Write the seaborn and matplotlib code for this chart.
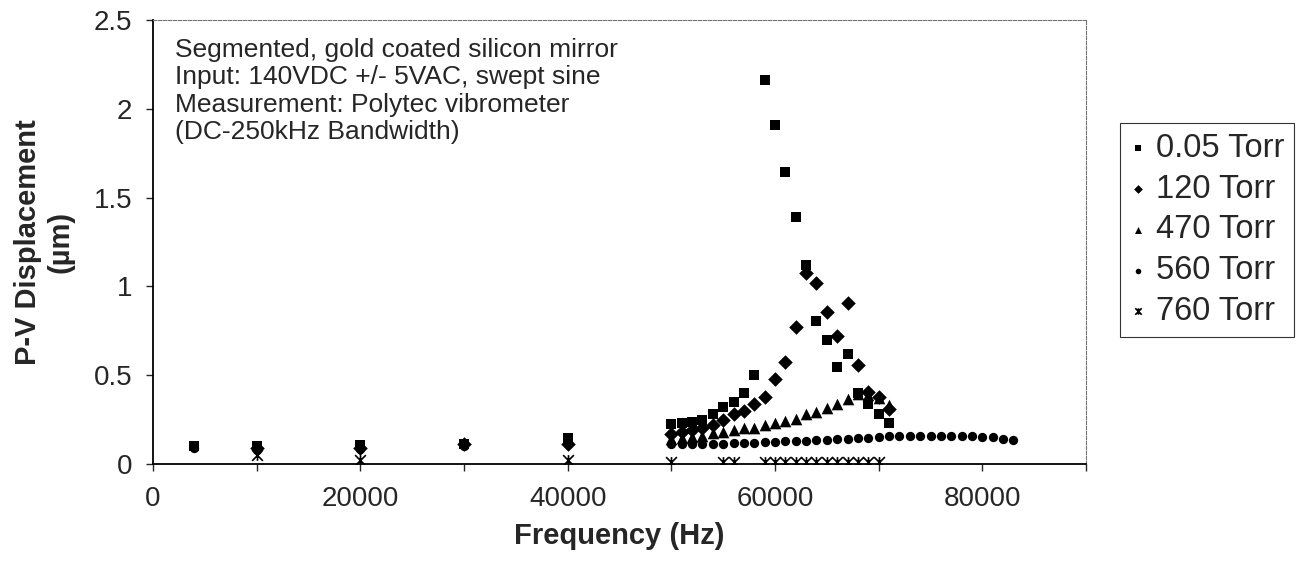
import matplotlib
matplotlib.use('Agg')
import matplotlib.pyplot as plt
from matplotlib.path import Path
import seaborn as sns

sns.set_style('white')
plt.rcParams['font.family'] = ['Liberation Sans', 'DejaVu Sans']

# data (Hz, um)
freq_005 = [4000, 10000, 20000, 30000, 40000,
            50000, 51000, 52000, 53000, 54000, 55000, 56000, 57000, 58000, 59000, 60000,
            61000, 62000, 63000, 64000, 65000, 66000, 67000, 68000, 69000, 70000, 71000]
disp_005 = [0.10, 0.10, 0.105, 0.115, 0.145,
            0.225, 0.23, 0.238, 0.25, 0.28, 0.32, 0.35, 0.40, 0.50, 2.16, 1.91,
            1.646, 1.393, 1.12, 0.807, 0.698, 0.544, 0.619, 0.40, 0.338, 0.28, 0.233]

freq_120 = [10000, 20000, 30000, 40000,
            50000, 51000, 52000, 53000, 54000, 55000, 56000, 57000, 58000, 59000, 60000,
            61000, 62000, 63000, 64000, 65000, 66000, 67000, 68000, 69000, 70000, 71000]
disp_120 = [0.09, 0.09, 0.11, 0.11,
            0.17, 0.18, 0.19, 0.20, 0.22, 0.25, 0.28, 0.30, 0.34, 0.38, 0.48,
            0.576, 0.77, 1.074, 1.017, 0.858, 0.72, 0.908, 0.557, 0.407, 0.375, 0.31]

freq_470 = [50000, 51000, 52000, 53000, 54000, 55000, 56000, 57000, 58000, 59000, 60000,
            61000, 62000, 63000, 64000, 65000, 66000, 67000, 68000, 69000, 70000, 71000]
disp_470 = [0.14, 0.145, 0.15, 0.16, 0.176, 0.182, 0.191, 0.201, 0.205, 0.218, 0.229,
            0.244, 0.252, 0.282, 0.295, 0.313, 0.338, 0.364, 0.395, 0.389, 0.37, 0.33]

freq_560 = [4000, 10000, 20000, 30000, 40000,
            50000, 51000, 52000, 53000, 54000, 55000, 56000, 57000, 58000, 59000, 60000,
            61000, 62000, 63000, 64000, 65000, 66000, 67000, 68000, 69000, 70000, 71000,
            72000, 73000, 74000, 75000, 76000, 77000, 78000, 79000, 80000, 81000, 82000, 83000]
disp_560 = [0.09, 0.08, 0.085, 0.10, 0.11,
            0.115, 0.115, 0.115, 0.115, 0.115, 0.115, 0.118, 0.118, 0.12, 0.125, 0.125,
            0.127, 0.13, 0.13, 0.135, 0.135, 0.14, 0.14, 0.145, 0.145, 0.15, 0.155,
            0.158, 0.158, 0.158, 0.158, 0.158, 0.158, 0.156, 0.156, 0.15, 0.15, 0.14, 0.135]

freq_760 = [10000, 20000, 40000, 50000, 55000, 56000,
            59000, 60000, 61000, 62000, 63000, 64000, 65000, 66000, 67000, 68000, 69000, 70000]
disp_760 = [0.05, 0.02, 0.02, 0.01, 0.01, 0.01,
            0.01, 0.01, 0.01, 0.01, 0.01, 0.01, 0.01, 0.01, 0.01, 0.01, 0.01, 0.01]

# x with a vertical bar, like the Excel star marker
star = Path([(-0.5, -0.5), (0.5, 0.5), (-0.5, 0.5), (0.5, -0.5), (0, -0.5), (0, 0.5)],
            [Path.MOVETO, Path.LINETO, Path.MOVETO, Path.LINETO, Path.MOVETO, Path.LINETO])

fig = plt.figure(figsize=(13.05, 5.67), dpi=100)
ax = fig.add_axes([153/1305, 1-464/567, 933/1305, 444/567])

sns.scatterplot(x=freq_005, y=disp_005, marker='s', s=55, color='black', edgecolor='black',
                linewidth=0, label='0.05 Torr', ax=ax, zorder=5)
sns.scatterplot(x=freq_120, y=disp_120, marker='D', s=55, color='black', edgecolor='black',
                linewidth=0, label='120 Torr', ax=ax, zorder=4)
sns.scatterplot(x=freq_470, y=disp_470, marker='^', s=70, color='black', edgecolor='black',
                linewidth=0, label='470 Torr', ax=ax, zorder=3)
sns.scatterplot(x=freq_560, y=disp_560, marker='o', s=45, color='black', edgecolor='black',
                linewidth=0, label='560 Torr', ax=ax, zorder=3)
sns.scatterplot(x=freq_760, y=disp_760, marker=star, s=60, color='black', edgecolor='black',
                linewidth=1.2, label='760 Torr', ax=ax, zorder=3)

ax.set_xlim(0, 90000)
ax.set_ylim(0, 2.5)
ax.set_xticks([0, 20000, 40000, 60000, 80000])
ax.set_xticks([10000, 30000, 50000, 70000, 90000], minor=True)
ax.set_yticks([0, 0.5, 1, 1.5, 2, 2.5])
ax.set_yticklabels(['0', '0.5', '1', '1.5', '2', '2.5'])
ax.tick_params(axis='x', which='both', direction='out', length=5, width=1, labelsize=20,
               pad=11, bottom=True)
ax.tick_params(axis='y', direction='out', length=5, width=1, labelsize=20, pad=10, left=True)

for s in ['left', 'bottom']:
    ax.spines[s].set_color('black')
    ax.spines[s].set_linewidth(1.3)
for s in ['top', 'right']:
    ax.spines[s].set_color('0.45')
    ax.spines[s].set_linewidth(0.8)
    ax.spines[s].set_linestyle((0, (3, 1.5)))

ax.set_xlabel('Frequency (Hz)', fontsize=21, fontweight='bold', labelpad=7)
ax.set_ylabel('P-V Displacement\n(µm)', fontsize=21, fontweight='bold', labelpad=14)

ax.text(0.024, 0.96,
        'Segmented, gold coated silicon mirror\nInput: 140VDC +/- 5VAC, swept sine\n'
        'Measurement: Polytec vibrometer\n(DC-250kHz Bandwidth)',
        transform=ax.transAxes, ha='left', va='top', fontsize=19, linespacing=1.18)

leg = ax.legend(loc='upper left', bbox_to_anchor=(1120/1305, 1-123/567),
                bbox_transform=fig.transFigure, fontsize=23.5, markerscale=0.6,
                handlelength=0.5, handletextpad=0.3, labelspacing=0.3,
                borderpad=0.3, borderaxespad=0, frameon=True, fancybox=False)
leg.get_frame().set_edgecolor('black')
leg.get_frame().set_linewidth(0.8)

fig.savefig('out.png', dpi=100)
